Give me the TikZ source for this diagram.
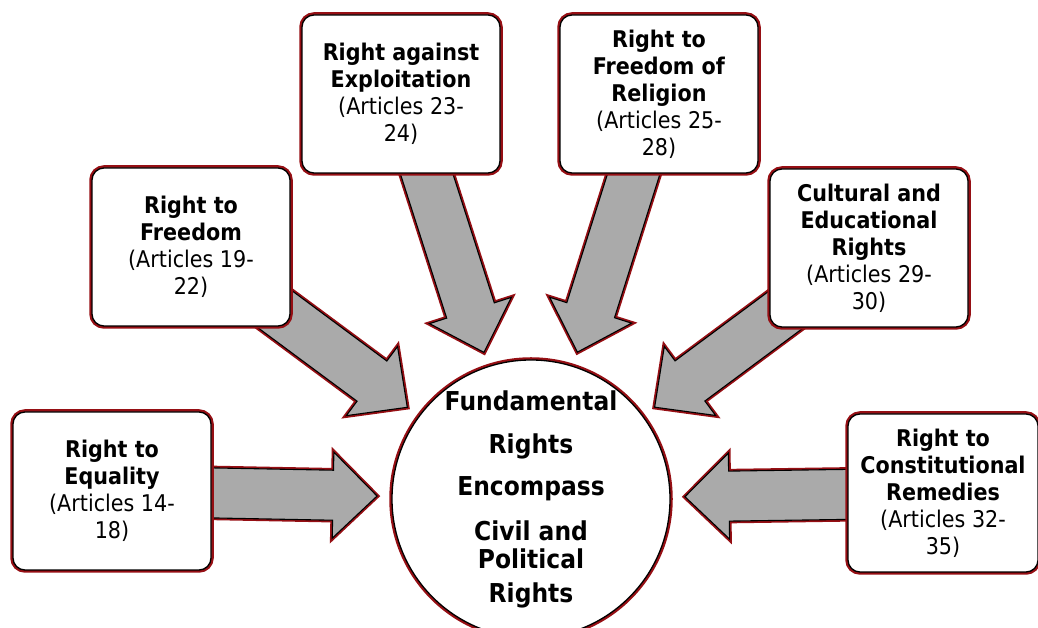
\documentclass[tikz,border=0pt]{standalone}
\usepackage{fontspec}
\setmainfont{DejaVu Sans}[FakeStretch=0.9]
\usetikzlibrary{calc,backgrounds}
\definecolor{rimred}{RGB}{150,15,20}
\definecolor{shaftgray}{RGB}{170,170,170}

% fat block arrow from a box towards the hub
\newcommand{\fatarrow}[1]{%
  \coordinate (#1tip) at ($(hub.center)!154pt!(#1.center)$);
  \coordinate (#1base) at ($(#1tip)!44pt!(#1.center)$);
  \filldraw[blockarrow] ($(#1.center)!25pt!90:(#1tip)$) -- ($(#1base)!25pt!90:(#1tip)$)
    -- ($(#1base)!43pt!90:(#1tip)$) -- (#1tip) -- ($(#1base)!43pt!-90:(#1tip)$)
    -- ($(#1base)!25pt!-90:(#1tip)$) -- ($(#1.center)!25pt!-90:(#1tip)$) -- cycle;
}

\begin{document}
\begin{tikzpicture}[x=1pt, y=1pt,
  rightbox/.style={draw=black, line width=1.3pt, preaction={draw=rimred, line width=5.5pt},
    fill=white, rounded corners=12pt, minimum width=198pt, minimum height=158pt,
    align=center, inner sep=2pt, font=\fontsize{23}{27}\selectfont},
  hubcircle/.style={circle, draw=black, line width=1.3pt, preaction={draw=rimred, line width=5.5pt},
    fill=white, minimum size=278pt, inner sep=0pt, align=center,
    font=\fontsize{26}{29}\selectfont\bfseries},
  blockarrow/.style={fill=shaftgray, draw=black, line width=1.1pt, line join=miter,
    preaction={draw=rimred, line width=4.5pt}}
]
\useasboundingbox (0,0) rectangle (1038,628);

% centre
\node[hubcircle] (hub) at (531,129)
  {Fundamental\\[14pt]Rights\\[13pt]Encompass\\[16pt]Civil and\\[-1pt]Political\\[5pt]Rights};

% the six rights
\node[rightbox] (equality) at (112,137)
  {\textbf{Right to}\\\textbf{Equality}\\(Articles 14-\\18)};
\node[rightbox] (freedom) at (191,381)
  {\textbf{Right to}\\\textbf{Freedom}\\(Articles 19-\\22)};
\node[rightbox] (exploit) at (401,534)
  {\textbf{Right against}\\\textbf{Exploitation}\\(Articles 23-\\24)};
\node[rightbox] (religion) at (659,534)
  {\textbf{Right to}\\\textbf{Freedom of}\\\textbf{Religion}\\(Articles 25-\\28)};
\node[rightbox] (culture) at (869,380)
  {\textbf{Cultural and}\\\textbf{Educational}\\\textbf{Rights}\\(Articles 29-\\30)};
\node[rightbox, minimum width=190pt] (remedies) at (943,135)
  {\textbf{Right to}\\\textbf{Constitutional}\\\textbf{Remedies}\\(Articles 32-\\35)};

% arrows run under the boxes
\begin{scope}[on background layer]
\foreach \src in {equality,freedom,exploit,religion,culture,remedies}
  {\fatarrow{\src}}
\end{scope}
\end{tikzpicture}
\end{document}
